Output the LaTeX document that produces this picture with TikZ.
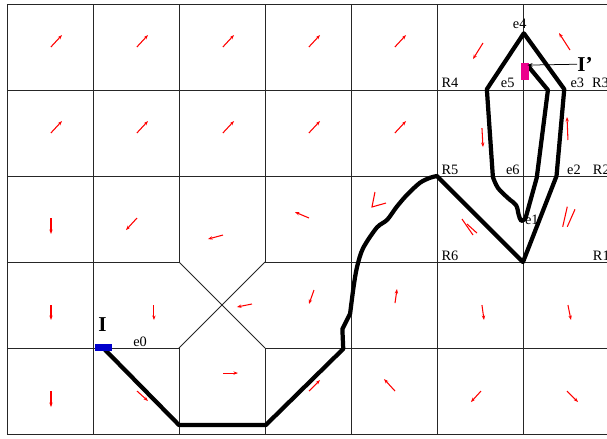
\documentclass[tikz,border=0pt]{standalone}
\usepackage{fontspec}
\setmainfont{Liberation Serif}
\usetikzlibrary{arrows.meta}

\begin{document}
\begin{tikzpicture}[
    x=2cm, y=2cm,
    gridline/.style={draw=black!85, line width=0.6pt},
    traj/.style={draw=black, line width=2.8pt, line join=round, line cap=round},
    vec/.style={draw=red, line width=0.7pt, -{Stealth[length=3pt, width=2.2pt]}},
    vstroke/.style={draw=red, line width=0.7pt},
    lbl/.style={font=\fontsize{9.5}{11}\selectfont, inner sep=0pt, anchor=base west},
    marker/.style={font=\fontsize{14}{16}\selectfont\bfseries, inner sep=0pt},
    startbox/.style={rectangle, fill=blue!80!black, minimum width=3.9mm, minimum height=1.6mm, inner sep=0pt},
    goalbox/.style={rectangle, fill=magenta, minimum width=1.9mm, minimum height=3.9mm, inner sep=0pt},
    pointer/.style={->, >={Stealth[length=3.5pt, width=2.5pt]}, draw=black, line width=0.5pt}
]
    \useasboundingbox (-0.081,-0.047) rectangle (6.977,5.047);

    % Grid rows and columns
    \foreach \r in {0,3,4,5} \draw[gridline] (0,\r) -- (6.977,\r);
    \foreach \r in {1,2} {
        \draw[gridline] (0,\r) -- (2,\r);
        \draw[gridline] (3,\r) -- (6.977,\r);
    }
    \foreach \c in {0,1,4,5,6} \draw[gridline] (\c,0) -- (\c,5);
    \foreach \c in {2,3} {
        \draw[gridline] (\c,0) -- (\c,1);
        \draw[gridline] (\c,2) -- (\c,5);
    }
    % Cut cell
    \draw[gridline] (2,2) -- (3,1);
    \draw[gridline] (3,2) -- (2,1);

    % Field vectors: upper left block
    \foreach \c in {0,...,4}
        \foreach \r in {3,4}
            \draw[vec] (\c+0.51,\r+0.5) -- ++(0.13,0.14);

    % Field vectors: remaining cells
    \draw[vec] (5.535,4.547) -- (5.419,4.360);
    \draw[vec] (6.547,4.465) -- (6.419,4.663);
    \draw[vec] (5.523,3.558) -- (5.535,3.337);
    \draw[vec] (6.523,3.419) -- (6.512,3.686);
    \draw[vec] (0.512,2.512) -- (0.512,2.326);
    \draw[vec] (1.512,2.512) -- (1.384,2.372);
    \draw[vec] (2.512,2.314) -- (2.337,2.267);
    \draw[vec] (3.512,2.512) -- (3.349,2.581);
    \draw[vstroke] (4.279,2.814) -- (4.244,2.640) -- (4.407,2.686);
    \draw[vstroke] (5.291,2.500) -- (5.419,2.314);
    \draw[vstroke] (5.349,2.442) -- (5.465,2.337);
    \draw[vstroke] (6.515,2.643) -- (6.462,2.410);
    \draw[vstroke] (6.605,2.613) -- (6.515,2.410);
    \draw[vec] (0.512,1.500) -- (0.512,1.326);
    \draw[vec] (1.709,1.500) -- (1.709,1.326);
    \draw[vec] (2.849,1.512) -- (2.674,1.477);
    \draw[vec] (3.570,1.674) -- (3.512,1.512);
    \draw[vec] (4.512,1.523) -- (4.535,1.686);
    \draw[vec] (5.523,1.500) -- (5.547,1.326);
    \draw[vec] (6.523,1.500) -- (6.558,1.326);
    \draw[vec] (0.512,0.500) -- (0.512,0.314);
    \draw[vec] (1.512,0.500) -- (1.640,0.384);
    \draw[vec] (2.512,0.709) -- (2.686,0.709);
    \draw[vec] (3.512,0.500) -- (3.640,0.628);
    \draw[vec] (4.512,0.500) -- (4.384,0.640);
    \draw[vec] (5.512,0.500) -- (5.395,0.372);
    \draw[vec] (6.512,0.500) -- (6.640,0.372);

    % Region and edge labels
    \node[lbl] (r1) at (6.81,2.02) {R1};
    \node[lbl] (r2) at (6.81,3.02) {R2};
    \node[lbl] (r3) at (6.80,4.03) {R3};
    \node[lbl] (r4) at (5.05,4.03) {R4};
    \node[lbl] (r5) at (5.05,3.02) {R5};
    \node[lbl] (r6) at (5.05,2.02) {R6};
    \node[lbl] (e0) at (1.465,1.02) {e0};
    \node[lbl] (e1) at (6.02,2.44) {e1};
    \node[lbl] (e2) at (6.51,3.02) {e2};
    \node[lbl] (e3) at (6.55,4.03) {e3};
    \node[lbl] (e4) at (5.88,4.72) {e4};
    \node[lbl] (e5) at (5.74,4.03) {e5};
    \node[lbl] (e6) at (5.80,3.02) {e6};

    % Trajectory
    \coordinate (p0) at (1.14,0.98);
    \coordinate (iend) at (6.05,4.29);
    \draw[traj] (p0) -- (2,0.105) -- (3.01,0.105) -- (3.91,0.99) -- (3.90,1.22) -- (3.99,1.40)
        -- plot[smooth, tension=0.5] coordinates {(3.99,1.40)
            (4.03,1.71) (4.07,1.94) (4.14,2.16) (4.30,2.40) (4.42,2.49) (4.53,2.64)
            (4.65,2.78) (4.80,2.92) (4.92,2.98) (5.0,3.0)}
        -- (6,2) -- (6.39,3.0) -- (6.48,4.01) -- (6.01,4.66) -- (5.58,4.01) -- (5.65,2.99)
        -- plot[smooth, tension=0.6] coordinates {(5.65,2.99) (5.71,2.86) (5.83,2.74)
            (5.92,2.66) (5.95,2.55) (5.98,2.48) (6.03,2.51)}
        -- (6.16,2.98) -- (6.29,4.0) -- (iend);

    % Start and goal
    \node[startbox] (s0) at (1.122,1.006) {};
    \node[goalbox] (g0) at (6.023,4.215) {};
    \node[marker] (I) at (1.11,1.27) {I};
    \node[marker, anchor=west] (Ip) at (6.63,4.30) {I’};
    \draw[pointer] (Ip.west) -- (iend);
\end{tikzpicture}
\end{document}
